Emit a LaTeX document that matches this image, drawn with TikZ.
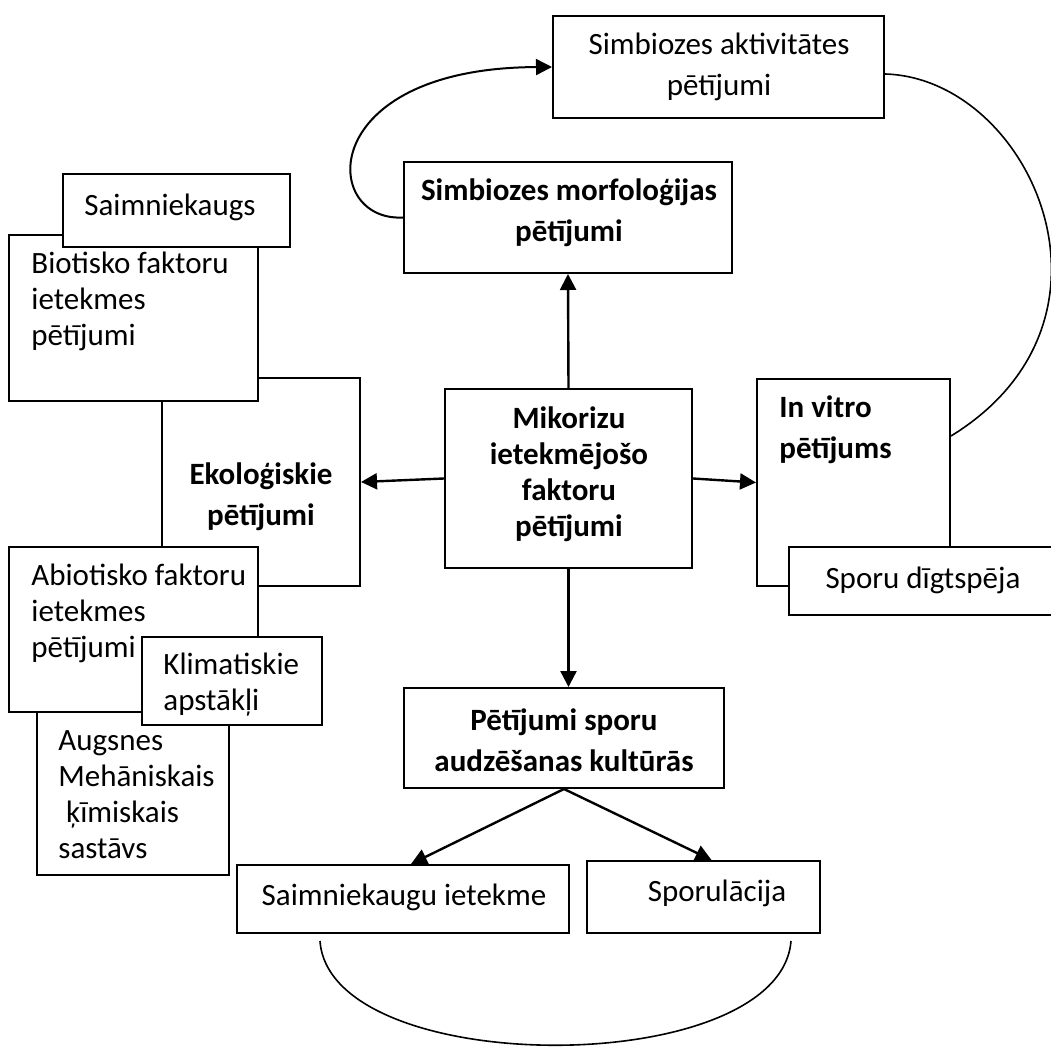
\documentclass[tikz,border=0pt]{standalone}
\usepackage{fontspec}
\setmainfont{Carlito}
\usetikzlibrary{arrows.meta, fit}

\newcommand{\diafont}{\fontsize{15.5}{18}\selectfont}
\newcommand{\diafontwide}{\fontsize{15.5}{20.5}\selectfont}

\begin{document}
\begin{tikzpicture}[x=0.5pt, y=-0.5pt,
    box/.style={draw, fill=white, line width=1pt, inner sep=0pt},
    txt/.style={inner sep=0pt, align=left},
    ctxt/.style={inner sep=0pt, align=center},
    nfont/.style={font=\diafont},
    nwide/.style={font=\diafontwide},
    bfont/.style={font=\diafont\bfseries},
    bwide/.style={font=\diafontwide\bfseries},
    arr/.style={line width=1.2pt, -{Triangle[length=8pt, width=8pt]}},
    link/.style={line width=0.8pt}]
\useasboundingbox (0,0) rectangle (1051,1048);
\clip (0,0) rectangle (1051,1048);

% Ecological studies (left)
\node[box, fit={(162,378) (360,586)}] (ekol) {};
\node[ctxt, bwide] (ekoltxt) at ([yshift=-7.5pt]ekol.center) {Ekoloģiskie\\pētījumi};
\node[box, fit={(9,235) (258,401)}] (bio) {};
\node[txt, nfont, anchor=west] (biotxt) at (31,301) {Biotisko faktoru\\ietekmes\\pētījumi};
\node[box, fit={(63,174) (290,247)}] (saim) {};
\node[txt, nfont, anchor=west] (saimtxt) at (84,207) {Saimniekaugs};
\node[box, fit={(37,700) (229,875)}] (augs) {};
\node[txt, nfont, anchor=west] (augstxt) at (58,795) {Augsnes\\Mehāniskais\\\hspace*{0.25em}ķīmiskais\\sastāvs};
\node[box, fit={(9,547) (258,712)}] (abio) {};
\node[txt, nfont, anchor=west] (abiotxt) at (31,613) {Abiotisko faktoru\\ietekmes\\pētījumi};
\node[box, fit={(142,637) (322,725)}] (klim) {};
\node[txt, nfont, anchor=west] (klimtxt) at (163,685) {Klimatiskie\\apstākļi};

% Centre and symbiosis studies
\node[box, fit={(445,389) (692,568)}] (mik) {};
\node[ctxt, bfont] (miktxt) at (569,474) {Mikorizu\\ietekmējošo\\faktoru\\pētījumi};
\node[box, fit={(404,162) (732,273)}] (morf) {};
\node[ctxt, bwide] (morftxt) at (569,213) {Simbiozes morfoloģijas\\pētījumi};
\node[box, fit={(553,16) (884,118)}] (act) {};
\node[ctxt, nwide] (acttxt) at (719,67) {Simbiozes aktivitātes\\pētījumi};

% In vitro (right)
\node[box, fit={(757,379) (950,586)}] (vitro) {};
\node[txt, bwide, anchor=west] (vitrotxt) at (779,430) {In vitro\\pētījums};
\node[box, fit={(789,547) (1070,615)}] (sporu) {};
\node[ctxt, nfont] (sporutxt) at (923,580) {Sporu dīgtspēja};

% Spore cultures (bottom)
\node[box, fit={(404,688) (724,788)}] (kult) {};
\node[ctxt, bwide] (kulttxt) at (564,740) {Pētījumi sporu\\audzēšanas kultūrās};
\node[box, fit={(237,865) (569,933)}] (saimiet) {};
\node[ctxt, nfont] (saimiettxt) at (404,897) {Saimniekaugu ietekme};
\node[box, fit={(587,861) (820,933)}] (sporul) {};
\node[ctxt, nfont] (sporultxt) at (717,893) {Sporulācija};

% Arrows
\draw[arr] (mik.north) -- (morf.south);
\draw[arr] (mik.west) -- (ekol.east);
\draw[arr] (mik.east) -- (vitro.west);
\draw[arr] (mik.south) -- (mik.south |- kult.north);
\draw[arr] (kult.south) -- ([xshift=4pt]saimiet.north);
\draw[arr] (kult.south) -- ([xshift=4pt]sporul.north);
\draw[arr, line width=1pt] (morf.west) .. controls (320,222) and (315,68) .. (act.west);

% Loops
\coordinate (actout) at ([yshift=-3.5pt]act.east);
\coordinate (vitroin) at ([yshift=23.25pt]vitro.east);
\draw[link] (actout) .. controls (1030,78) and (1140,320) .. (vitroin);
\coordinate (loopL) at ([shift={(84,7)}]saimiet.south west);
\coordinate (loopR) at ([shift={(-30,7)}]sporul.south east);
\draw[link] (loopL) .. controls (330,1080) and (780,1080) .. (loopR);
\end{tikzpicture}
\end{document}
